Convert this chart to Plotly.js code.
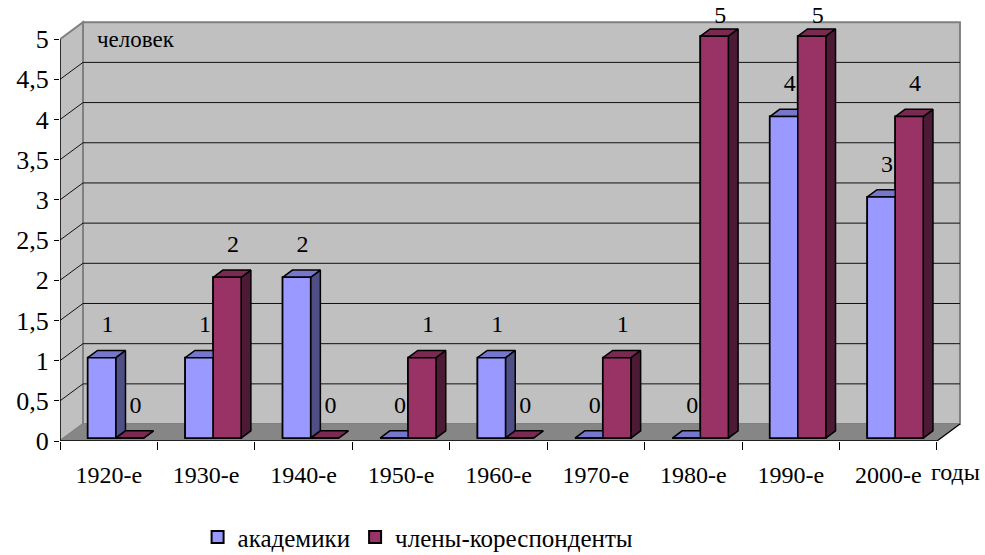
<!DOCTYPE html>
<html>
<head>
<meta charset="utf-8">
<script src="https://cdn.plot.ly/plotly-3.0.1.min.js"></script>
<style>
html,body{margin:0;padding:0;background:#fff;}
#chart{width:985px;height:555px;}
</style>
</head>
<body>
<div id="chart"></div>
<script>
// ---- data ----
const categories = ['1920-е', '1930-е', '1940-е', '1950-е', '1960-е', '1970-е', '1980-е', '1990-е', '2000-е'];
const academicians = [1, 1, 2, 0, 1, 0, 0, 4, 3];
const correspondents = [0, 2, 0, 1, 0, 1, 5, 5, 4];
const seriesNames = ['академики', 'члены-кореспонденты'];
const yTickValues = [0, 0.5, 1, 1.5, 2, 2.5, 3, 3.5, 4, 4.5, 5];
const yTickLabels = ['0', '0,5', '1', '1,5', '2', '2,5', '3', '3,5', '4', '4,5', '5'];
const yUnitLabel = 'человек';
const xUnitLabel = 'годы';

// ---- style / geometry (pseudo-3D) ----
const SERIF = 'Liberation Serif';
const BAR_W = 0.287, OFFSETS = [-0.215, 0.072], BASE = 0.037;
const BDX = 0.1, BDY = 0.09;       // bar depth
const WDX = 0.236, WDY = 0.211;    // wall depth
const XMIN = -0.5, XMAX = categories.length - 0.5, YMAX = 5;
const COLORS = [
  {front: '#9999FF', side: '#4F4F86', top: '#7676CC'},
  {front: '#993366', side: '#4D1A35', top: '#7A2952'}
];

function facePolys(values, off) {
  const f = {x: [], y: []}, s = {x: [], y: []}, t = {x: [], y: []};
  values.forEach((v, i) => {
    const x0 = i + off, x1 = x0 + BAR_W, y0 = BASE, y1 = BASE + v;
    f.x.push(x0, x1, x1, x0, x0, null); f.y.push(y0, y0, y1, y1, y0, null);
    s.x.push(x1, x1 + BDX, x1 + BDX, x1, x1, null); s.y.push(y0, y0 + BDY, y1 + BDY, y1, y0, null);
    t.x.push(x0, x1, x1 + BDX, x0 + BDX, x0, null); t.y.push(y1, y1, y1 + BDY, y1 + BDY, y1, null);
  });
  return {f, s, t};
}

const traces = [];
const allSeries = [academicians, correspondents];
allSeries.forEach((vals, k) => {
  traces.push({
    type: 'bar', name: seriesNames[k], x: categories.map((c, i) => i), y: vals,
    base: BASE, width: BAR_W, offset: OFFSETS[k],
    marker: {color: COLORS[k].front, line: {color: '#000', width: 2}},
    hoverinfo: 'skip', showlegend: true
  });
});
allSeries.forEach((vals, k) => {
  const p = facePolys(vals, OFFSETS[k]);
  [['s', 'side'], ['t', 'top'], ['f', 'front']].forEach(([key, col]) => {
    traces.push({
      type: 'scatter', mode: 'lines', x: p[key].x, y: p[key].y, fill: 'toself',
      fillcolor: COLORS[k][col], line: {color: '#000', width: 1.5},
      hoverinfo: 'skip', showlegend: false
    });
  });
});
allSeries.forEach((vals, k) => {
  traces.push({
    type: 'scatter', mode: 'text',
    x: vals.map((v, i) => i + OFFSETS[k] + BAR_W / 2 + 0.06),
    y: vals.map(v => Math.min(v + BASE + 0.39, 5.27)),
    text: vals.map(v => String(v)),
    textposition: 'middle center',
    textfont: {family: SERIF, size: 24, color: '#000'},
    cliponaxis: false, hoverinfo: 'skip', showlegend: false
  });
});

const shapes = [];
shapes.push({type: 'rect', layer: 'below', xref: 'x', yref: 'y',
  x0: XMIN + WDX, x1: XMAX + WDX, y0: WDY, y1: YMAX + WDY,
  fillcolor: '#C0C0C0', line: {color: '#808080', width: 2}});
shapes.push({type: 'path', layer: 'below', xref: 'x', yref: 'y',
  path: `M${XMIN},0 L${XMIN + WDX},${WDY} L${XMIN + WDX},${YMAX + WDY} L${XMIN},${YMAX} Z`,
  fillcolor: '#C0C0C0', line: {color: '#808080', width: 2}});
shapes.push({type: 'path', layer: 'below', xref: 'x', yref: 'y',
  path: `M${XMIN},0 L${XMAX},0 L${XMAX + WDX},${WDY} L${XMIN + WDX},${WDY} Z`,
  fillcolor: '#868686', line: {width: 0}});
yTickValues.filter(v => v > 0 && v < YMAX).forEach(v => {
  shapes.push({type: 'line', layer: 'below', xref: 'x', yref: 'y',
    x0: XMIN, y0: v, x1: XMIN + WDX, y1: v + WDY, line: {color: '#111', width: 1}});
  shapes.push({type: 'line', layer: 'below', xref: 'x', yref: 'y',
    x0: XMIN + WDX, y0: v + WDY, x1: XMAX + WDX, y1: v + WDY, line: {color: '#111', width: 1}});
});
shapes.push({type: 'line', layer: 'below', xref: 'x', yref: 'y',
  x0: XMIN, y0: 0, x1: XMIN, y1: YMAX, line: {color: '#000', width: 1.3}});
shapes.push({type: 'path', layer: 'below', xref: 'x', yref: 'y',
  path: `M${XMIN},0 L${XMAX},0 L${XMAX + WDX},${WDY}`, line: {color: '#000', width: 1.3}});

const layout = {
  width: 985, height: 555,
  font: {family: SERIF, size: 24, color: '#000'},
  margin: {l: 60, r: 23, t: 3, b: 114, pad: 0, autoexpand: false},
  paper_bgcolor: '#fff', plot_bgcolor: '#fff',
  barmode: 'overlay',
  showlegend: true,
  legend: {orientation: 'h', x: 0.397, xanchor: 'center', y: -0.22, yanchor: 'middle',
    font: {family: SERIF, size: 25, color: '#000'}, traceorder: 'normal',
    itemwidth: 30, tracegroupgap: 0},
  xaxis: {
    range: [XMIN, XMAX + 0.257], tickmode: 'array',
    tickvals: categories.map((c, i) => i), ticktext: categories,
    ticks: 'outside', ticklen: 12, tickcolor: 'rgba(0,0,0,0)',
    minor: {tick0: 0.5, dtick: 1, ticks: 'outside', ticklen: 8, tickcolor: '#000', tickwidth: 1},
    showgrid: false, zeroline: false, showline: false, fixedrange: true, automargin: false,
    tickfont: {family: SERIF, size: 24, color: '#000'}
  },
  yaxis: {
    range: [0, 5.45], tickmode: 'array', tickvals: yTickValues, ticktext: yTickLabels,
    ticks: 'outside', ticklen: 5, tickcolor: '#000', tickwidth: 1,
    showgrid: false, zeroline: false, showline: false, fixedrange: true, automargin: false,
    tickfont: {family: SERIF, size: 26, color: '#000'}
  },
  shapes: shapes,
  annotations: [
    {text: yUnitLabel, xref: 'x', yref: 'y', x: XMIN + 0.36, y: 4.99, xanchor: 'left', yanchor: 'middle',
      showarrow: false, font: {family: SERIF, size: 23, color: '#000'}},
    {text: xUnitLabel, xref: 'paper', yref: 'paper', x: 0.993, y: -0.071, xanchor: 'center', yanchor: 'middle',
      showarrow: false, font: {family: SERIF, size: 24, color: '#000'}}
  ]
};

Plotly.newPlot('chart', traces, layout, {displayModeBar: false});
</script>
</body>
</html>
